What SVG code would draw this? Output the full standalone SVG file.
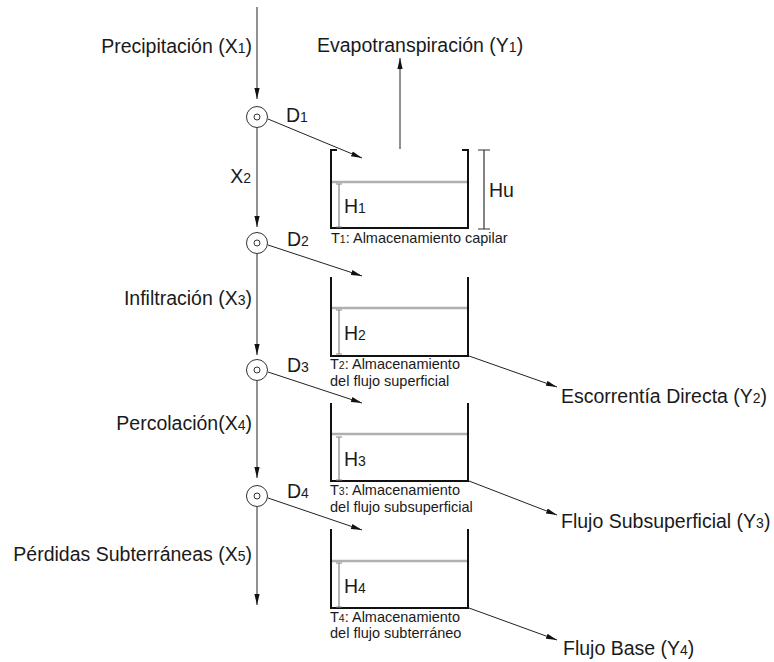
<svg xmlns="http://www.w3.org/2000/svg" width="774" height="662" viewBox="0 0 774 662">
<style>
text{font-family:"Liberation Sans",Arial,sans-serif;fill:#1a1a1a}
.lbl{font-size:19.5px}
.sm{font-size:14.5px}
.sub{font-size:14px}
.sub2{font-size:10.5px}
.conn{stroke:#222;stroke-width:1;fill:none}
.wall{stroke:#111;stroke-width:2;fill:none}
.water{stroke:#b0b0b0;stroke-width:2.5;fill:none}
.dim{stroke:#888;stroke-width:1.2;fill:none}
.dimk{stroke:#333;stroke-width:1.2;fill:none}
.node{stroke:#333;stroke-width:1;fill:#fff}
</style>
<defs>
<marker id="ah" markerUnits="userSpaceOnUse" markerWidth="11" markerHeight="6" refX="11" refY="3" orient="auto">
<path d="M0,0.4 L11,3 L0,5.6 z" fill="#111"/>
</marker>
</defs>
<g id="connectors">
<line class="conn" x1="257" y1="7" x2="257" y2="99" marker-end="url(#ah)"/>
<line class="conn" x1="257" y1="128" x2="257" y2="227" marker-end="url(#ah)"/>
<line class="conn" x1="257" y1="254" x2="257" y2="355" marker-end="url(#ah)"/>
<line class="conn" x1="257" y1="381" x2="257" y2="478" marker-end="url(#ah)"/>
<line class="conn" x1="257" y1="507" x2="257" y2="605" marker-end="url(#ah)"/>
<line class="conn" x1="268" y1="119" x2="362" y2="158" marker-end="url(#ah)"/>
<line class="conn" x1="268" y1="245" x2="362" y2="276" marker-end="url(#ah)"/>
<line class="conn" x1="268" y1="372" x2="362" y2="403" marker-end="url(#ah)"/>
<line class="conn" x1="268" y1="498" x2="362" y2="530" marker-end="url(#ah)"/>
<line class="conn" x1="400" y1="149" x2="400" y2="58" marker-end="url(#ah)"/>
<line class="conn" x1="469" y1="356" x2="557" y2="387" marker-end="url(#ah)"/>
<line class="conn" x1="469" y1="481" x2="557" y2="515" marker-end="url(#ah)"/>
<line class="conn" x1="469" y1="608" x2="557" y2="640" marker-end="url(#ah)"/>
</g>
<g id="labels-left">
<text class="lbl" x="252" y="53" text-anchor="end">Precipitación (X<tspan class="sub">1</tspan>)</text>
<text class="lbl" x="251" y="183" text-anchor="end">X<tspan class="sub">2</tspan></text>
<text class="lbl" x="252" y="305" text-anchor="end">Infiltración (X<tspan class="sub">3</tspan>)</text>
<text class="lbl" x="252" y="430" text-anchor="end">Percolación(X<tspan class="sub">4</tspan>)</text>
<text class="lbl" x="252" y="561" text-anchor="end">Pérdidas Subterráneas (X<tspan class="sub">5</tspan>)</text>
</g>
<g id="n1">
<circle class="node" cx="257" cy="117" r="10.5"/>
<circle class="node" cx="257" cy="117" r="3"/>
<text class="lbl" x="286" y="122">D<tspan class="sub">1</tspan></text>
</g>
<g id="n2">
<circle class="node" cx="257" cy="243" r="10.5"/>
<circle class="node" cx="257" cy="243" r="3"/>
<text class="lbl" x="287" y="246">D<tspan class="sub">2</tspan></text>
</g>
<g id="n3">
<circle class="node" cx="257" cy="370" r="10.5"/>
<circle class="node" cx="257" cy="370" r="3"/>
<text class="lbl" x="287" y="372">D<tspan class="sub">3</tspan></text>
</g>
<g id="n4">
<circle class="node" cx="257" cy="496" r="10.5"/>
<circle class="node" cx="257" cy="496" r="3"/>
<text class="lbl" x="287" y="498">D<tspan class="sub">4</tspan></text>
</g>
<g id="tank1">
<polyline class="wall" points="337,150 331,150 331,228 468,228 468,150 462,150"/>
<line class="water" x1="332" y1="182" x2="467" y2="182"/>
<path class="dim" d="M339,184 V227 M336,184 H342 M336,227 H342"/>
<text class="lbl" x="344" y="213">H<tspan class="sub">1</tspan></text>
<path class="dimk" d="M484,150 V229 M478,150 H490 M478,229 H490"/>
<text class="lbl" x="489" y="197">Hu</text>
<text class="sm" x="331" y="243">T<tspan class="sub2">1</tspan>: Almacenamiento capilar</text>
</g>
<g id="tank2">
<polyline class="wall" points="331,277 331,356 468,356 468,277"/>
<line class="water" x1="332" y1="308" x2="467" y2="308"/>
<path class="dim" d="M339,310 V354 M336,310 H342 M336,354 H342"/>
<text class="lbl" x="344" y="340">H<tspan class="sub">2</tspan></text>
<text class="sm" x="330" y="369">T<tspan class="sub2">2</tspan>: Almacenamiento</text>
<text class="sm" x="330" y="386">del flujo superficial</text>
</g>
<g id="tank3">
<polyline class="wall" points="331,403 331,481 468,481 468,403"/>
<line class="water" x1="332" y1="434" x2="467" y2="434"/>
<path class="dim" d="M339,437 V480 M336,437 H342 M336,480 H342"/>
<text class="lbl" x="344" y="466">H<tspan class="sub">3</tspan></text>
<text class="sm" x="330" y="495">T<tspan class="sub2">3</tspan>: Almacenamiento</text>
<text class="sm" x="330" y="512">del flujo subsuperficial</text>
</g>
<g id="tank4">
<polyline class="wall" points="331,529 331,608 468,608 468,529"/>
<line class="water" x1="332" y1="561" x2="467" y2="561"/>
<path class="dim" d="M339,563 V607 M336,563 H342 M336,607 H342"/>
<text class="lbl" x="344" y="593">H<tspan class="sub">4</tspan></text>
<text class="sm" x="330" y="622">T<tspan class="sub2">4</tspan>: Almacenamiento</text>
<text class="sm" x="330" y="638">del flujo subterráneo</text>
</g>
<g id="outputs">
<text class="lbl" x="317" y="52">Evapotranspiración (Y<tspan class="sub">1</tspan>)</text>
<text class="lbl" x="561" y="403">Escorrentía Directa (Y<tspan class="sub">2</tspan>)</text>
<text class="lbl" x="561" y="528">Flujo Subsuperficial (Y<tspan class="sub">3</tspan>)</text>
<text class="lbl" x="563" y="655">Flujo Base (Y<tspan class="sub">4</tspan>)</text>
</g>
</svg>
